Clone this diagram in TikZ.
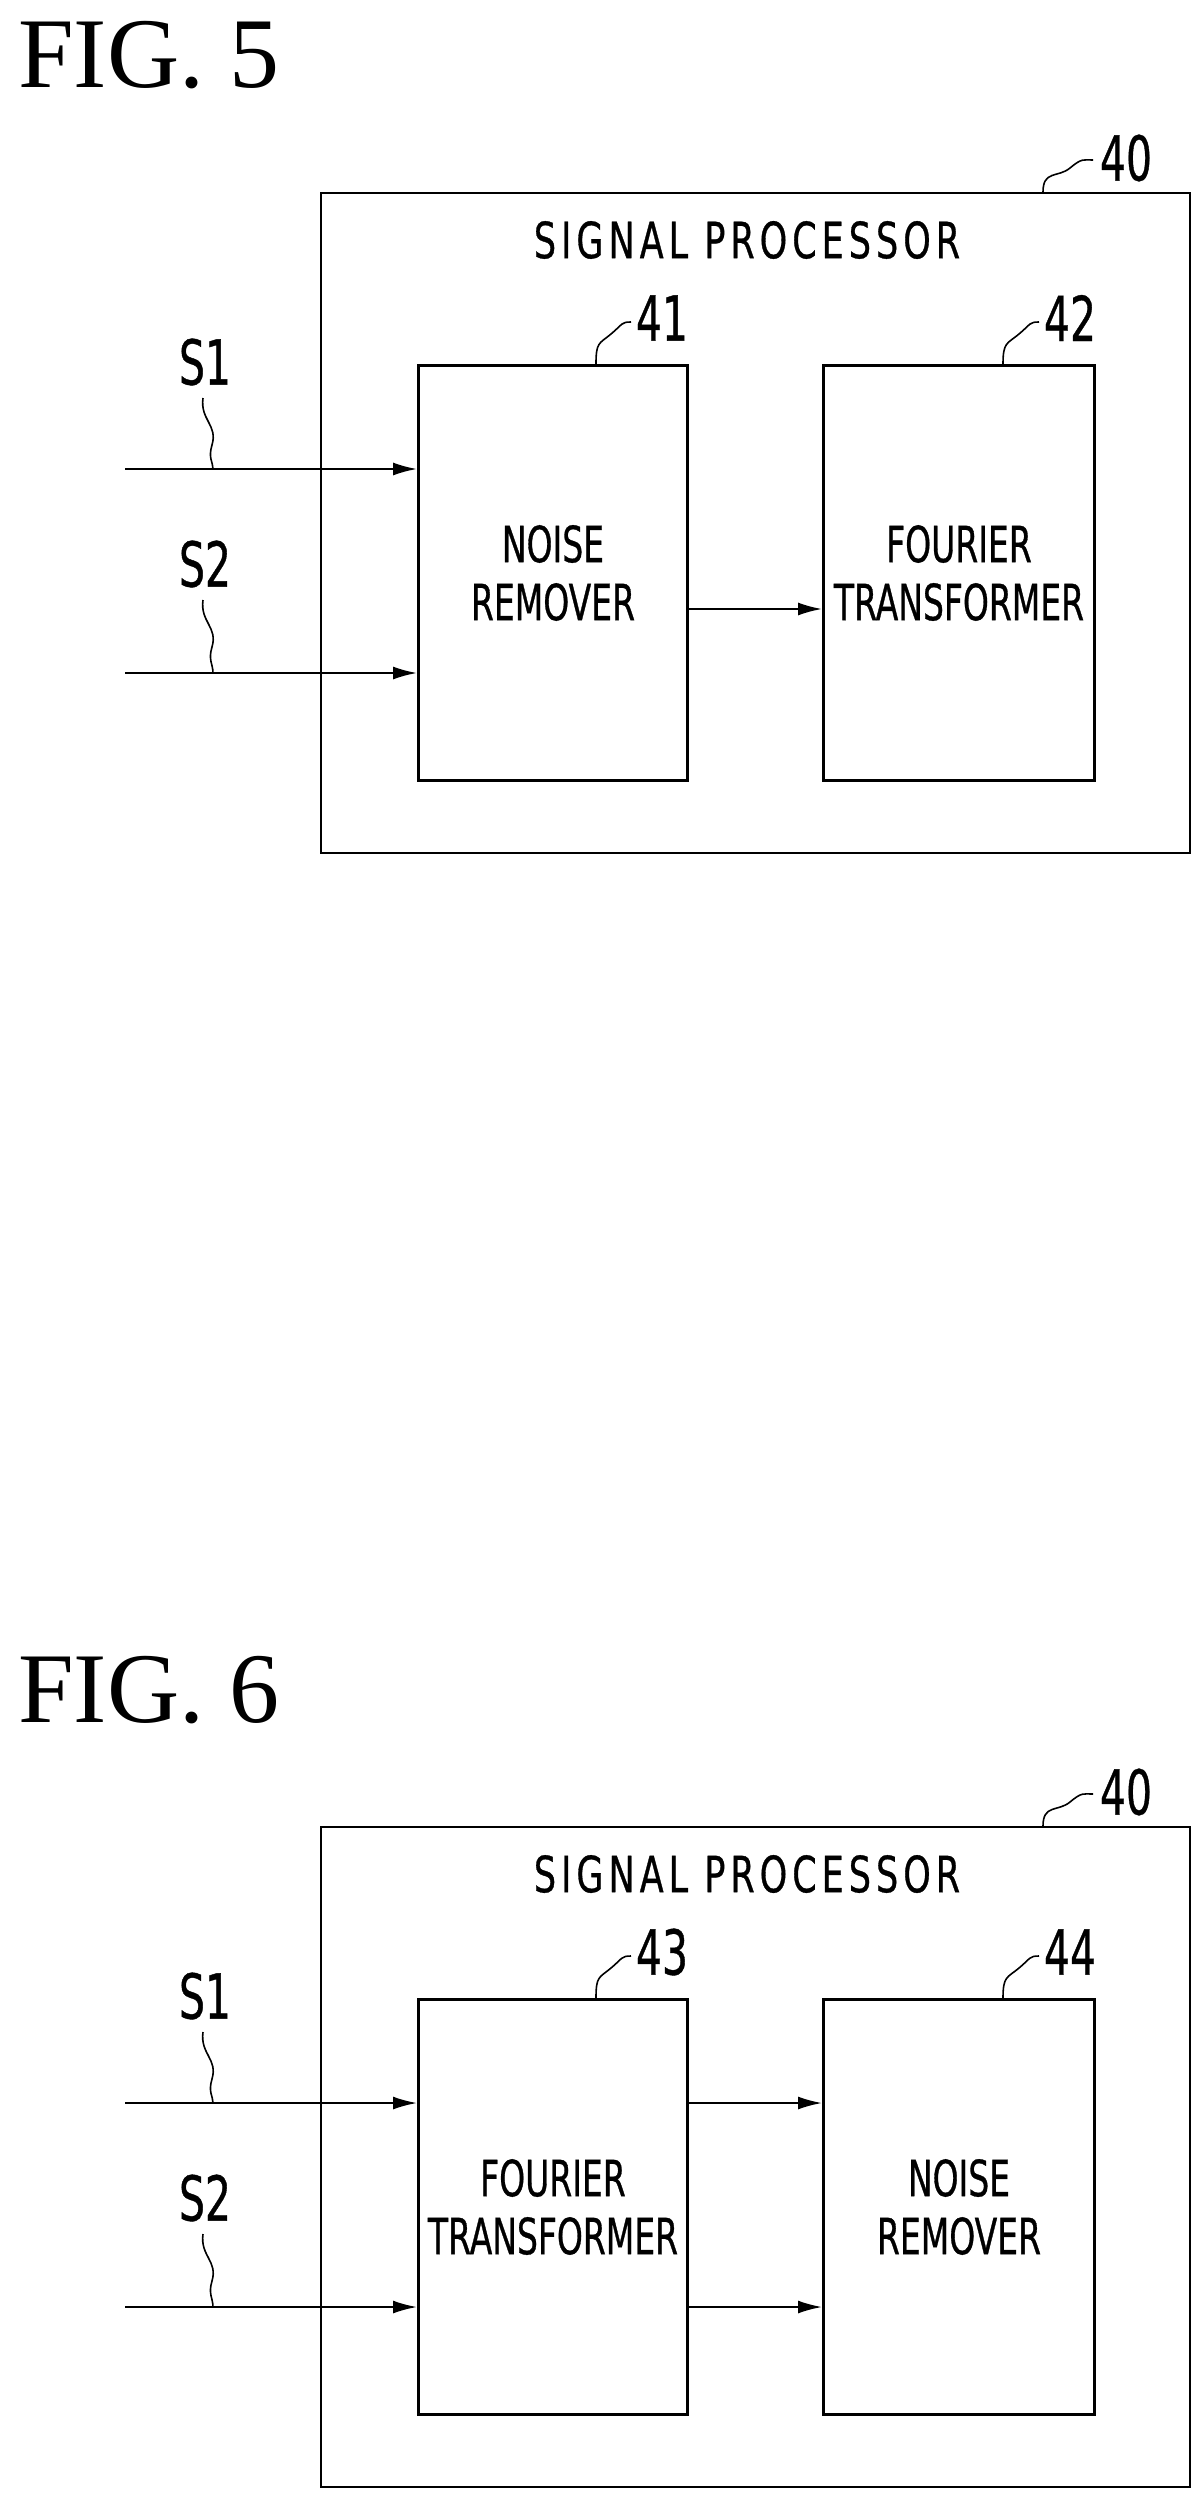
\documentclass[tikz,border=0pt]{standalone}
\usepackage{fontspec}
\setmainfont{Liberation Serif}
\newfontfamily\lab[FakeStretch=0.66,FakeBold=0.6]{DejaVu Sans}
\newfontfamily\labsp[FakeStretch=0.7,FakeBold=0.6,LetterSpace=10]{DejaVu Sans}
\usetikzlibrary{arrows.meta}
\tikzset{
 box/.style={draw,line width=3pt},
 outer/.style={draw,line width=2pt},
 sig/.style={line width=2pt,-{Latex[length=24pt,width=13pt]}},
 lead/.style={line width=1.6pt},
 txt/.style={font=\lab\fontsize{50}{58}\selectfont,align=center,inner sep=0pt},
 big/.style={font=\lab\fontsize{62}{70}\selectfont,inner sep=0pt},
 fig/.style={font=\fontsize{100}{110}\selectfont,inner sep=0pt,anchor=base west}
}
\begin{document}
\begin{tikzpicture}[x=1pt,y=-1pt]
\useasboundingbox (0,0) rectangle (1192,2510);
\foreach \oy/\n/\a/\b/\ta/\tb/\mode in {0/5/41/42/{NOISE\\REMOVER}/{FOURIER\\TRANSFORMER}/1,1634/6/43/44/{FOURIER\\TRANSFORMER}/{NOISE\\REMOVER}/2}{
 \begin{scope}[yshift=-\oy]
 \node[fig] (fig\n) at (18,88) {FIG. \n};
 \node[outer,minimum width=869pt,minimum height=660pt,anchor=north west,inner sep=0pt] (o\n) at (320,192) {};
 \node[txt,font=\labsp\fontsize{50}{58}\selectfont,anchor=center] (sp\n) at (747,240) {SIGNAL PROCESSOR};
 \node[big,anchor=center] (l40\n) at (1126,158) {40};
 \draw[lead] ([xshift=-148pt]o\n.north east) .. controls +(0,-22) and +(-12,10) .. (1070,168) .. controls +(12,-10) and +(-10,0) .. (1093,160);
 \node[box,minimum width=269pt,minimum height=415pt,anchor=north west,inner sep=0pt] (A\n) at (417,364) {};
 \node[box,minimum width=271pt,minimum height=415pt,anchor=north west,inner sep=0pt] (B\n) at (822,364) {};
 \node[txt] at (A\n.center) {\ta};
 \node[txt] at (B\n.center) {\tb};
 \node[big] (n\a) at (662,318) {\a};
 \node[big] (n\b) at (1070,318) {\b};
 \draw[lead] ([xshift=-93pt]A\n.north east) .. controls +(0,-22) and +(-12,10) .. (611,334) .. controls +(12,-10) and +(-10,0) .. (631,322);
 \draw[lead] ([xshift=-93pt]B\n.north east) .. controls +(0,-22) and +(-12,10) .. (1019,334) .. controls +(12,-10) and +(-10,0) .. (1039,322);
 \coordinate (s1\n) at (125,469);
 \coordinate (s2\n) at (125,673);
 \draw[sig] (s1\n) -- (A\n.west |- s1\n);
 \draw[sig] (s2\n) -- (A\n.west |- s2\n);
 \node[big] (S1\n) at (205,362) {S1};
 \node[big] (S2\n) at (205,564) {S2};
 \draw[lead] (203,398) .. controls (200,420) and (218,425) .. (212,445) .. controls (208,458) and (213,462) .. (213,469);
 \draw[lead] (203,600) .. controls (200,622) and (218,627) .. (212,647) .. controls (208,660) and (213,664) .. (213,673);
 \ifnum\mode=1
  \draw[sig] (A\n.east |- 0,609) -- (B\n.west |- 0,609);
 \else
  \draw[sig] (A\n.east |- s1\n) -- (B\n.west |- s1\n);
  \draw[sig] (A\n.east |- s2\n) -- (B\n.west |- s2\n);
 \fi
 \end{scope}}
\end{tikzpicture}
\end{document}
